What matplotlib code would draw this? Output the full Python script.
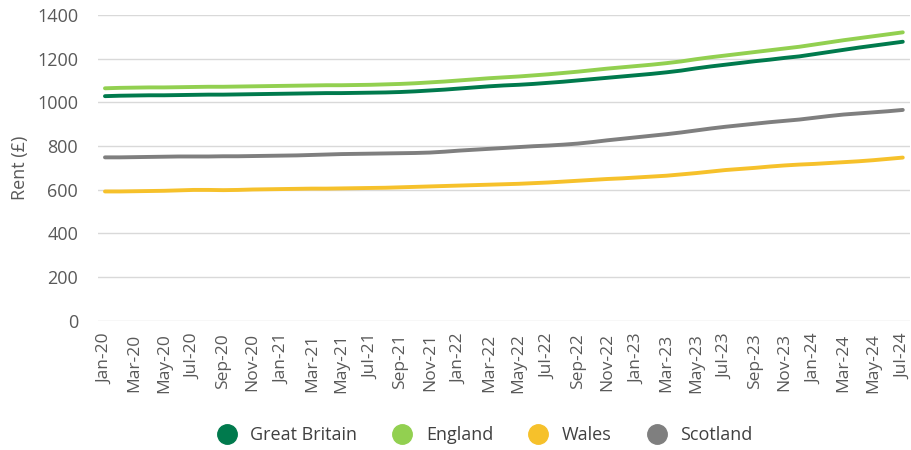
import matplotlib.pyplot as plt
from matplotlib.lines import Line2D

# Monthly average rent, Jan-20 .. Jul-24
months = ['Jan', 'Feb', 'Mar', 'Apr', 'May', 'Jun', 'Jul', 'Aug', 'Sep', 'Oct', 'Nov', 'Dec']
labels = [f'{m}-{y}' for y in range(20, 25) for m in months][:55]

great_britain = [1028, 1030, 1031, 1032, 1032, 1033, 1034, 1035, 1035, 1036, 1037, 1038,
                 1039, 1040, 1041, 1042, 1042, 1043, 1044, 1045, 1047, 1050, 1054, 1058,
                 1063, 1068, 1073, 1077, 1080, 1084, 1089, 1094, 1100, 1106, 1112, 1118,
                 1124, 1130, 1137, 1145, 1155, 1164, 1172, 1180, 1188, 1195, 1203, 1210,
                 1220, 1230, 1240, 1250, 1259, 1268, 1277]
england = [1064, 1066, 1067, 1068, 1068, 1069, 1070, 1071, 1071, 1072, 1073, 1074,
           1075, 1076, 1077, 1078, 1078, 1079, 1080, 1082, 1084, 1087, 1091, 1095,
           1100, 1105, 1110, 1114, 1118, 1123, 1128, 1134, 1140, 1147, 1154, 1160,
           1166, 1172, 1179, 1187, 1197, 1206, 1214, 1222, 1230, 1238, 1246, 1254,
           1264, 1274, 1284, 1293, 1302, 1311, 1320]
wales = [592, 592, 593, 594, 595, 597, 599, 599, 598, 599, 601, 602,
         603, 604, 605, 605, 606, 607, 608, 609, 611, 613, 615, 617,
         619, 621, 623, 625, 627, 630, 633, 637, 641, 645, 649, 652,
         656, 660, 664, 670, 676, 683, 690, 695, 700, 706, 711, 715,
         718, 722, 726, 730, 735, 741, 747]
scotland = [748, 748, 749, 750, 751, 752, 752, 752, 753, 753, 754, 755,
            756, 757, 759, 761, 763, 764, 765, 766, 767, 768, 770, 774,
            779, 783, 787, 791, 795, 799, 802, 806, 811, 818, 826, 833,
            840, 847, 854, 862, 871, 880, 888, 895, 902, 909, 915, 921,
            929, 937, 944, 949, 954, 959, 965]

series = [('Great Britain', great_britain, '#007a4d'),
          ('England', england, '#92d050'),
          ('Wales', wales, '#f6c12b'),
          ('Scotland', scotland, '#7f7f7f')]

plt.rcParams['font.family'] = ['Open Sans', 'DejaVu Sans']
fig = plt.figure(figsize=(9.12, 4.5), dpi=100)
ax = fig.add_axes([0.107, 0.287, 0.891, 0.680])

x = list(range(len(labels)))
for name, vals, col in series:
    ax.plot(x, vals, color=col, linewidth=2.8, solid_capstyle='round', zorder=3)

ax.set_xlim(-0.5, 54.5)
ax.set_ylim(0, 1400)
ax.set_yticks(range(0, 1401, 200))
ax.set_xticks(x[::2])
ax.set_xticklabels(labels[::2], rotation=90)
ax.tick_params(axis='both', length=0, labelcolor='#595959')
ax.tick_params(axis='x', pad=9, labelsize=12.5)
ax.tick_params(axis='y', pad=14, labelsize=13)
ax.grid(axis='y', color='#d9d9d9', linewidth=1)
ax.set_axisbelow(True)
for s in ax.spines.values():
    s.set_visible(False)
ax.set_ylabel('Rent (£)', fontsize=13, color='#595959', labelpad=6)

handles = [Line2D([], [], marker='o', linestyle='none', markersize=14,
                  markerfacecolor=col, markeredgecolor=col, label=name)
           for name, vals, col in series]
fig.legend(handles=handles, loc='center', bbox_to_anchor=(0.527, 0.033), ncol=4,
           frameon=False, fontsize=13, handletextpad=0.3, columnspacing=1.5,
           labelcolor='#404040')

fig.savefig('out.png', dpi=100)
